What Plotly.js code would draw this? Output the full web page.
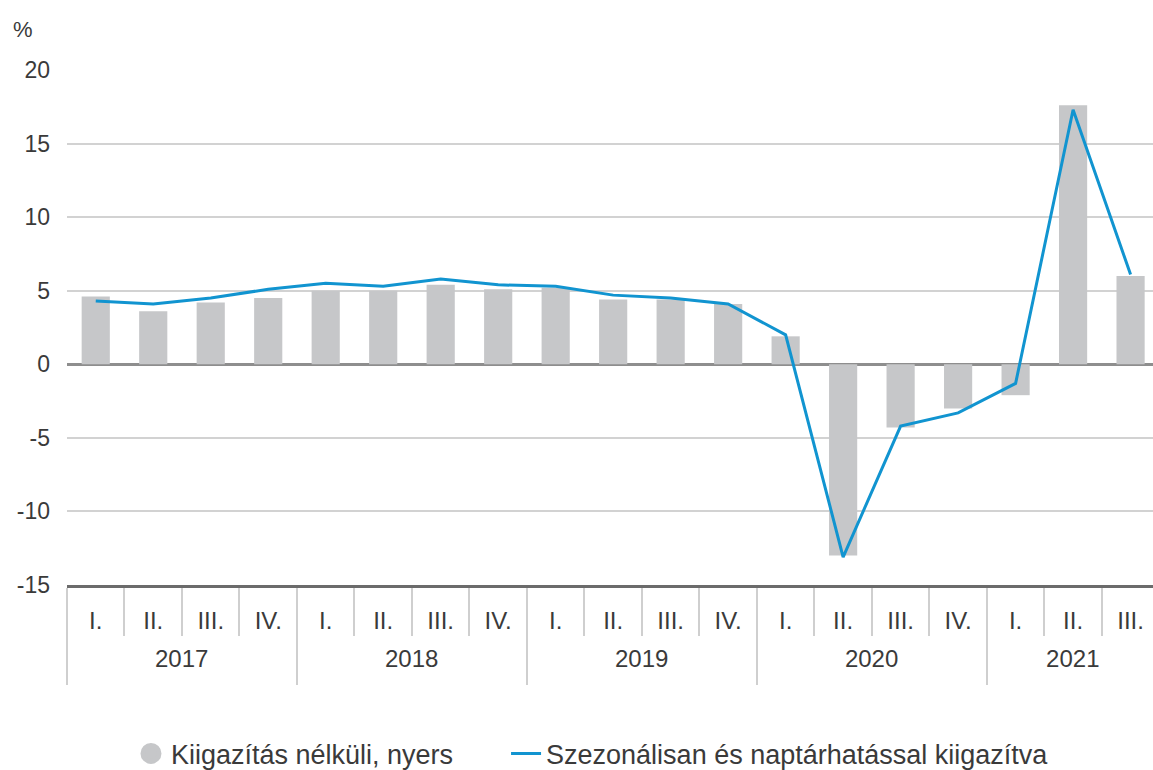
<!DOCTYPE html>
<html>
<head>
<meta charset="utf-8">
<script src="https://cdn.plot.ly/plotly-3.0.1.min.js"></script>
<style>html,body{margin:0;padding:0;background:#fff;}#chart{width:1153px;height:770px;}</style>
</head>
<body>
<div id="chart"></div>
<script>
var years = ['2017','2017','2017','2017','2018','2018','2018','2018','2019','2019','2019','2019','2020','2020','2020','2020','2021','2021','2021'];
var quarters = ['I.','II.','III.','IV.','I.','II.','III.','IV.','I.','II.','III.','IV.','I.','II.','III.','IV.','I.','II.','III.'];
var rawValues = [4.6, 3.6, 4.2, 4.5, 5.0, 5.0, 5.4, 5.1, 5.2, 4.4, 4.4, 4.1, 1.9, -13.0, -4.3, -3.0, -2.1, 17.6, 6.0];
var adjustedValues = [4.3, 4.1, 4.5, 5.1, 5.5, 5.3, 5.8, 5.4, 5.3, 4.7, 4.5, 4.1, 2.0, -13.1, -4.2, -3.3, -1.3, 17.3, 6.1];
var yTicks = [-15, -10, -5, 0, 5, 10, 15, 20];
var rawName = 'Kiigazítás nélküli, nyers';
var adjName = 'Szezonálisan és naptárhatással kiigazítva';

var FONT = 'Liberation Sans, Arial, sans-serif';
var TXT = '#3a3a3a';

// year labels sit lower than Plotly's default second row; a tiny trailing
// spacer lengthens the year dividers below the labels
var yearLabels = years.map(function (y) {
  return '<span style="baseline-shift:-22px">' + y + '</span>' +
         '<span style="baseline-shift:-38px;font-size:2px">\u00a0</span>';
});
var xCats = [yearLabels, quarters];

var traces = [
  {
    type: 'bar', x: xCats, y: rawValues, name: rawName,
    marker: {color: '#c6c7c9'}, showlegend: false, hoverinfo: 'y'
  },
  {
    type: 'scatter', mode: 'markers', x: [[yearLabels[0]], [quarters[0]]], y: [null], name: rawName,
    marker: {color: '#c6c7c9', size: 16, symbol: 'circle', line: {color: '#c6c7c9', width: 5}},
    showlegend: true, legend: 'legend', hoverinfo: 'skip'
  },
  {
    type: 'scatter', mode: 'lines', x: xCats, y: adjustedValues, name: adjName,
    line: {color: '#1194d0', width: 3}, showlegend: true, legend: 'legend2'
  }
];

var legendCommon = {
  orientation: 'h', xref: 'container', xanchor: 'left',
  yref: 'container', y: 0.021, yanchor: 'middle',
  font: {family: FONT, size: 27, color: TXT}, itemwidth: 30
};

var layout = {
  width: 1153, height: 770,
  margin: {l: 67, r: 0, t: 70, b: 184.5, autoexpand: false},
  paper_bgcolor: '#fff', plot_bgcolor: '#fff',
  font: {family: FONT, color: TXT, size: 22},
  bargap: 0.51,
  showlegend: true,
  xaxis: {
    type: 'multicategory', automargin: false,
    range: [-0.5, 18.39], autorange: false,
    tickson: 'boundaries', ticks: 'outside', ticklen: 48, tickwidth: 2, tickcolor: '#cfcfcf',
    ticklabelstandoff: 13,
    showdividers: true, dividercolor: '#cfcfcf', dividerwidth: 2,
    showline: true, linecolor: '#6b6b6b', linewidth: 2.5,
    showgrid: false, zeroline: false,
    tickfont: {family: FONT, size: 24, color: TXT}
  },
  yaxis: {
    automargin: false,
    range: [-15, 20], autorange: false,
    tickvals: yTicks, ticktext: yTicks.map(String),
    showgrid: true, gridcolor: '#d2d2d2', gridwidth: 2,
    zeroline: true, zerolinecolor: '#8e8e8e', zerolinewidth: 2.5,
    showline: false, ticks: '', ticklabelstandoff: 16,
    tickfont: {family: FONT, size: 23, color: TXT}
  },
  legend: Object.assign({}, legendCommon, {x: 0.1136}),
  legend2: Object.assign({}, legendCommon, {x: 0.4389}),
  annotations: [
    {text: '%', xref: 'paper', yref: 'paper', x: -0.0405, y: 1.0795, xanchor: 'center', yanchor: 'middle',
     showarrow: false, font: {family: FONT, size: 22, color: TXT}}
  ]
};

Plotly.newPlot('chart', traces, layout, {displayModeBar: false, staticPlot: true});
</script>
</body>
</html>
